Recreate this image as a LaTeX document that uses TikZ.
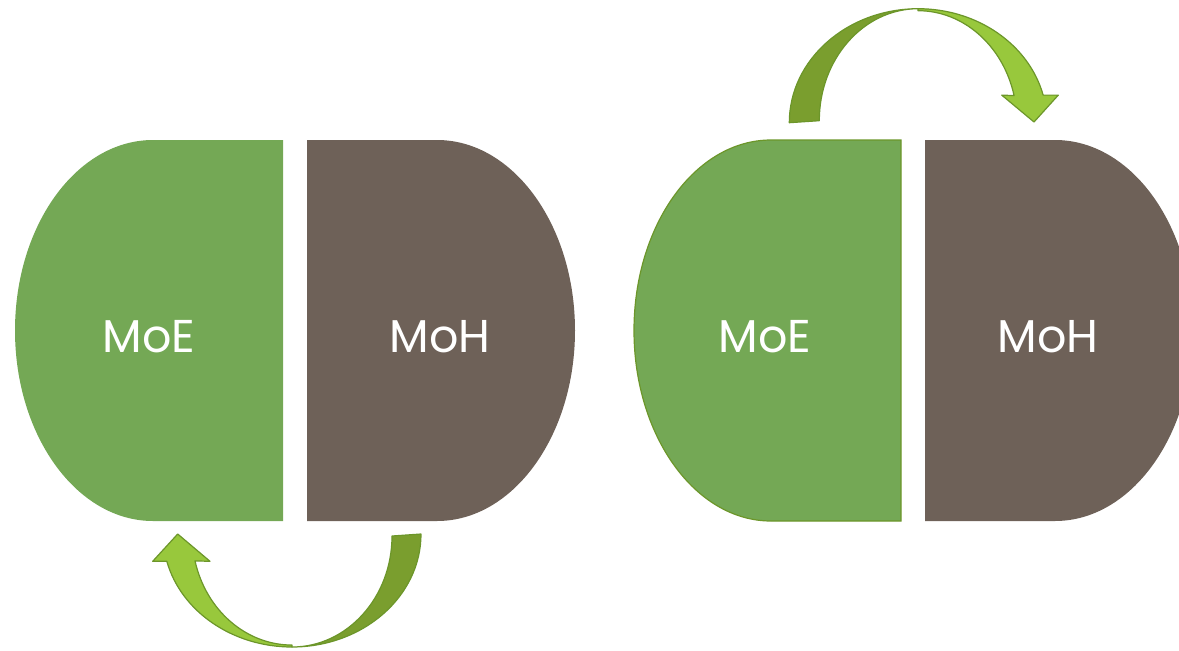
\documentclass[tikz,border=0pt]{standalone}
\usepackage{fontspec}
\setmainfont{Poppins}
\definecolor{boxgreen}{HTML}{74A855}
\definecolor{boxbrown}{HTML}{6E6158}
\definecolor{arrlight}{HTML}{98C83C}
\definecolor{arrdark}{HTML}{7A9E2E}
\definecolor{arredge}{HTML}{6C962A}
\tikzset{
  greenbox/.style={fill=boxgreen},
  brownbox/.style={fill=boxbrown},
  lightpart/.style={fill=arrlight, draw=arredge, line width=1.2pt, line join=round},
  darkpart/.style={fill=arrdark, draw=arredge, line width=1.2pt, line join=round},
  label/.style={text=white, font=\fontsize{46}{46}\selectfont, inner sep=0pt}
}
\begin{document}
\begin{tikzpicture}[x=1pt,y=-1pt]
\useasboundingbox (0,0) rectangle (1179,651);
\clip (0,0) rectangle (1179,651);
% left pair
\path[greenbox] (283,140) -- (153,140) arc[start angle=270, end angle=90, x radius=138, y radius=190.5] -- (283,521) -- cycle;
\path[brownbox] (307,140) -- (437,140) arc[start angle=270, end angle=450, x radius=138, y radius=190.5] -- (307,521) -- cycle;
% right pair
\path[greenbox, draw=arredge, line width=1.2pt] (901,140) -- (771,140) arc[start angle=270, end angle=90, x radius=137, y radius=190.5] -- (901,521) -- cycle;
\path[brownbox] (925,140) -- (1055,140) arc[start angle=270, end angle=450, x radius=138, y radius=190.5] -- (925,521) -- cycle;
% labels
\node[label] (moeL) at (149,337) {MoE};
\node[label] (mohL) at (440,337) {MoH};
\node[label] (moeR) at (765,337) {MoE};
\node[label] (mohR) at (1048,337) {MoH};
% bottom curved arrow
\draw[darkpart] (421,534) arc[start angle=0, end angle=90, x radius=129, y radius=113]
  arc[start angle=90, end angle=0, x radius=100, y radius=111] -- cycle;
\draw[lightpart] (292,647) arc[start angle=90, end angle=166, x radius=129, y radius=113]
  -- (152.7,561.3) -- (177.7,534) -- (210,561.3) -- (195,560.9)
  arc[start angle=166, end angle=90, x radius=100, y radius=111] -- cycle;
% top curved arrow
\draw[darkpart] (789.3,122.7) arc[start angle=180, end angle=270, x radius=129, y radius=114]
  arc[start angle=270, end angle=180, x radius=99, y radius=112] -- cycle;
\draw[lightpart] (918,8.7) arc[start angle=270, end angle=346, x radius=129, y radius=114]
  -- (1058.3,95.1) -- (1034,122) -- (1001.7,95.1) -- (1014.1,95.6)
  arc[start angle=346, end angle=270, x radius=99, y radius=112] -- cycle;
\end{tikzpicture}
\end{document}
